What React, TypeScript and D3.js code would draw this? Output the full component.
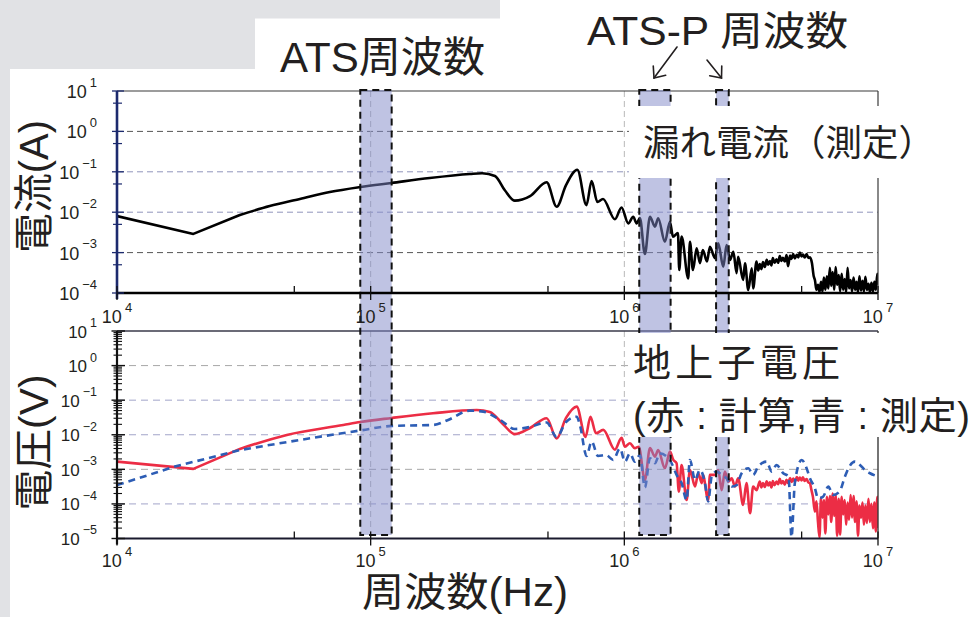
import React from "react";
import * as d3 from "d3";

// ---------- data ----------
// leakage current (measured), [Hz, A]
const leakCurrent: [number, number][] = [
  [1e4, 8.0e-3], [2.0e4, 2.9e-3], [3.05e4, 8.5e-3], [4.0e4, 1.42e-2], [5.26e4, 2.12e-2],
  [6.9e4, 3.16e-2], [9.1e4, 4.2e-2], [1.21e5, 5.3e-2], [1.71e5, 7.0e-2], [2.46e5, 8.8e-2],
  [2.75e5, 9.2e-2], [3.09e5, 7.9e-2], [3.38e5, 3.5e-2], [3.7e5, 1.93e-2], [4.25e5, 2.5e-2],
  [4.94e5, 5.5e-2], [5.41e5, 1.37e-2], [5.89e5, 4.7e-2], [6.53e5, 1.12e-1], [7.09e5, 1.5e-2],
  [7.43e5, 5.9e-2], [7.83e5, 1.79e-2], [8.24e5, 2.12e-2], [9.18e5, 6.7e-3], [9.75e5, 1.31e-2],
  [1.036e6, 5.3e-3], [1.084e6, 7.7e-3], [1.118e6, 5.3e-3], [1.152e6, 7.2e-3], [1.205e6, 9.2e-4],
  [1.262e6, 7.7e-3], [1.32e6, 4.4e-3], [1.36e6, 7.1e-3], [1.445e6, 1.86e-3], [1.513e6, 5.8e-3],
  [1.555e6, 2.48e-3], [1.627e6, 3.06e-3], [1.646e6, 3.7e-4], [1.682e6, 2.48e-3], [1.786e6, 2.3e-4],
  [1.814e6, 1.86e-3], [1.864e6, 3.7e-4], [1.928e6, 1.28e-3], [1.986e6, 5.5e-4], [2.04e6, 1.16e-3],
  [2.117e6, 6.0e-4], [2.175e6, 1.4e-3], [2.276e6, 7.3e-4], [2.345e6, 1.7e-3], [2.455e6, 4.5e-4],
  [2.53e6, 1.54e-3], [2.61e6, 6.6e-4], [2.69e6, 1.05e-3], [2.77e6, 3.1e-4], [2.81e6, 7.9e-4],
  [2.94e6, 2.1e-4], [2.99e6, 5.4e-4], [3.08e6, 1.19e-4], [3.18e6, 4.1e-4], [3.22e6, 1.3e-4],
  [3.32e6, 6.0e-4], [3.37e6, 3.6e-4], [3.42e6, 5.2e-4], [3.47e6, 3.9e-4], [3.52e6, 5.8e-4],
  [3.58e6, 4.4e-4], [3.64e6, 6.6e-4], [3.69e6, 5.0e-4], [3.75e6, 6.2e-4], [3.8e6, 4.8e-4],
  [3.85e6, 7.3e-4], [3.91e6, 5.6e-4], [3.98e6, 6.8e-4], [4.04e6, 5.6e-4], [4.1e6, 8.2e-4],
  [4.16e6, 6.2e-4], [4.22e6, 7.4e-4], [4.29e6, 6.0e-4], [4.36e6, 8.7e-4], [4.42e6, 4.6e-4],
  [4.5e6, 8.4e-4], [4.56e6, 7.0e-4], [4.63e6, 9.2e-4], [4.7e6, 7.2e-4], [4.79e6, 8.8e-4],
  [4.85e6, 7.6e-4], [4.92e6, 1.0e-3], [5.0e6, 8.0e-4], [5.06e6, 9.0e-4], [5.14e6, 7.6e-4],
  [5.23e6, 9.2e-4], [5.31e6, 7.4e-4], [5.39e6, 7.6e-4], [5.49e6, 5.5e-4], [5.58e6, 2.6e-4],
  [5.64e6, 2.1e-4], [5.72e6, 1.2e-4], [5.8e6, 1.6e-4], [5.88e6, 1.05e-4], [5.96e6, 1.9e-4],
  [6.04e6, 1.1e-4], [6.12e6, 2.4e-4], [6.2e6, 1.2e-4], [6.29e6, 2.6e-4], [6.37e6, 1.3e-4],
  [6.46e6, 4.2e-4], [6.54e6, 1.5e-4], [6.63e6, 3.3e-4], [6.72e6, 1.2e-4], [6.81e6, 4.4e-4],
  [6.9e6, 1.6e-4], [7.0e6, 2.8e-4], [7.09e6, 1.1e-4], [7.19e6, 3.0e-4], [7.29e6, 1.2e-4],
  [7.39e6, 2.2e-4], [7.49e6, 1.05e-4], [7.59e6, 4.2e-4], [7.69e6, 1.3e-4], [7.8e6, 2.1e-4],
  [7.9e6, 1.1e-4], [8.01e6, 2.4e-4], [8.12e6, 1.2e-4], [8.23e6, 1.9e-4], [8.34e6, 1.05e-4],
  [8.45e6, 2.6e-4], [8.57e6, 1.15e-4], [8.69e6, 2.0e-4], [8.8e6, 1.1e-4], [8.92e6, 2.5e-4],
  [9.04e6, 1.2e-4], [9.17e6, 1.7e-4], [9.29e6, 1.05e-4], [9.42e6, 1.8e-4], [9.55e6, 1.1e-4],
  [9.68e6, 1.9e-4], [9.81e6, 1.2e-4], [9.94e6, 3.0e-4], [1e7, 1.6e-4],
];

// transponder voltage, calculated (red), [Hz, V]
const calcVoltage: [number, number][] = [
  [1e4, 1.67e-3], [2.0e4, 1.03e-3], [3.05e4, 3.9e-3], [4.67e4, 9.9e-3], [7.8e4, 1.92e-2],
  [9.1e4, 2.34e-2], [1.21e5, 3.06e-2], [1.76e5, 4.18e-2], [2.62e5, 5.2e-2], [2.95e5, 4.56e-2],
  [3.32e5, 2.05e-2], [3.7e5, 1.04e-2], [4.25e5, 1.57e-2], [4.94e5, 3.0e-2], [5.41e5, 7.8e-3],
  [5.89e5, 3.06e-2], [6.49e5, 6.5e-2], [7.03e5, 8.6e-3], [7.35e5, 3.33e-2], [7.73e5, 1.1e-2],
  [8.26e5, 1.38e-2], [9.18e5, 3.7e-3], [9.75e5, 8.1e-3], [1.006e6, 4.5e-3], [1.052e6, 5.7e-3],
  [1.1e6, 4.1e-3], [1.14e6, 4.5e-3], [1.205e6, 4.9e-4], [1.262e6, 4.1e-3], [1.32e6, 2.33e-3],
  [1.36e6, 3.6e-3], [1.445e6, 1.08e-3], [1.513e6, 3.25e-3], [1.56e6, 1.87e-3], [1.607e6, 1.5e-3],
  [1.64e6, 2.27e-4], [1.682e6, 1.34e-3], [1.76e6, 1.3e-4], [1.814e6, 9.6e-4], [1.9e6, 3.2e-4],
  [1.956e6, 7.7e-4], [2.02e6, 4.0e-4], [2.04e6, 6.9e-4], [2.14e6, 1.3e-4], [2.175e6, 6.9e-4],
  [2.276e6, 6.9e-4], [2.345e6, 9.6e-4], [2.42e6, 2.5e-4], [2.49e6, 8.6e-4], [2.57e6, 4.4e-4],
  [2.65e6, 5.5e-4], [2.73e6, 3.2e-4], [2.81e6, 5.5e-4], [2.94e6, 9.4e-5], [3.03e6, 4.0e-4],
  [3.13e6, 5.4e-5], [3.22e6, 3.2e-4], [3.32e6, 2.5e-4], [3.42e6, 4.4e-4], [3.47e6, 3.0e-4],
  [3.52e6, 4.0e-4], [3.58e6, 3.1e-4], [3.64e6, 4.5e-4], [3.69e6, 3.4e-4], [3.75e6, 4.2e-4],
  [3.8e6, 3.0e-4], [3.85e6, 4.6e-4], [3.91e6, 3.5e-4], [3.98e6, 4.4e-4], [4.04e6, 3.7e-4],
  [4.1e6, 5.3e-4], [4.16e6, 3.9e-4], [4.22e6, 4.6e-4], [4.29e6, 3.6e-4], [4.36e6, 5.0e-4],
  [4.42e6, 4.0e-4], [4.5e6, 5.6e-4], [4.56e6, 4.3e-4], [4.63e6, 5.4e-4], [4.7e6, 4.4e-4],
  [4.79e6, 6.0e-4], [4.85e6, 4.7e-4], [4.92e6, 5.8e-4], [5.0e6, 4.8e-4], [5.06e6, 5.9e-4],
  [5.14e6, 4.6e-4], [5.23e6, 5.2e-4], [5.31e6, 4.2e-4], [5.39e6, 4.0e-4], [5.46e6, 2.6e-4],
  [5.54e6, 1.6e-4], [5.64e6, 6.0e-5], [5.72e6, 1.2e-4], [5.8e6, 3.0e-5], [5.88e6, 1.1e-5],
  [5.96e6, 1.5e-4], [6.04e6, 4.0e-5], [6.12e6, 1.3e-4], [6.2e6, 1.4e-5], [6.29e6, 1.6e-4],
  [6.37e6, 5.0e-5], [6.46e6, 1.7e-4], [6.54e6, 3.0e-5], [6.63e6, 2.0e-4], [6.72e6, 4.5e-5],
  [6.81e6, 1.8e-4], [6.9e6, 1.2e-5], [7.0e6, 1.4e-4], [7.09e6, 1.3e-5], [7.19e6, 1.6e-4],
  [7.29e6, 5.0e-5], [7.39e6, 1.3e-4], [7.49e6, 2.5e-5], [7.59e6, 1.1e-4], [7.69e6, 3.5e-5],
  [7.8e6, 1.8e-4], [7.9e6, 4.0e-5], [8.01e6, 1.7e-4], [8.12e6, 3.0e-5], [8.23e6, 1.2e-4],
  [8.34e6, 1.2e-5], [8.45e6, 9.0e-5], [8.57e6, 4.0e-5], [8.69e6, 1.1e-4], [8.8e6, 2.5e-5],
  [8.92e6, 9.0e-5], [9.04e6, 2.8e-5], [9.17e6, 1.4e-4], [9.29e6, 3.0e-5], [9.42e6, 1.0e-4],
  [9.55e6, 2.0e-5], [9.68e6, 1.1e-4], [9.81e6, 1.6e-5], [9.94e6, 1.6e-4], [1e7, 2.0e-5],
];

// transponder voltage, measured (blue dashed), [Hz, V]
const measVoltage: [number, number][] = [
  [1e4, 3.5e-4], [1.69e4, 1.2e-3], [3.05e4, 3.6e-3], [5.77e4, 7.9e-3], [9.1e4, 1.33e-2],
  [1.21e5, 1.8e-2], [1.77e5, 1.92e-2], [2.02e5, 2.68e-2], [2.46e5, 4.98e-2], [2.78e5, 4.66e-2],
  [3.24e5, 2.68e-2], [3.7e5, 1.47e-2], [4.25e5, 1.68e-2], [4.94e5, 2.26e-2], [5.41e5, 8.6e-3],
  [5.89e5, 2.34e-2], [6.49e5, 3.33e-2], [6.68e5, 1.92e-2], [7.1e5, 2.44e-3], [7.43e5, 6.4e-3],
  [7.87e5, 2.44e-3], [8.46e5, 2.6e-3], [9.04e5, 1.87e-3], [9.61e5, 4.0e-3], [1.006e6, 1.67e-3],
  [1.052e6, 2.9e-3], [1.1e6, 1.67e-3], [1.152e6, 2.6e-3], [1.205e6, 3.0e-4], [1.262e6, 2.1e-3],
  [1.32e6, 1.5e-3], [1.38e6, 2.9e-3], [1.47e6, 2.33e-3], [1.536e6, 1.5e-3], [1.607e6, 6.9e-4],
  [1.682e6, 4.0e-4], [1.76e6, 1.3e-4], [1.814e6, 1.87e-3], [1.9e6, 4.9e-4], [1.986e6, 9.6e-4],
  [2.08e6, 4.0e-4], [2.14e6, 1.17e-4], [2.21e6, 6.2e-4], [2.31e6, 8.6e-4], [2.42e6, 6.9e-4],
  [2.53e6, 5.5e-4], [2.65e6, 3.2e-4], [2.77e6, 3.5e-4], [2.9e6, 7.7e-4], [3.08e6, 1.08e-3],
  [3.22e6, 6.9e-4], [3.37e6, 1.2e-3], [3.64e6, 1.67e-3], [3.81e6, 8.6e-4], [3.98e6, 1.34e-3],
  [4.23e6, 7.7e-4], [4.44e6, 6.2e-4], [4.56e6, 1.1e-5], [4.7e6, 4.0e-4], [5.0e6, 1.87e-3],
  [5.23e6, 1.08e-3], [5.39e6, 5.5e-4], [5.64e6, 2.85e-4], [5.8e6, 1.46e-4], [6.08e6, 1.63e-4],
  [6.37e6, 3.2e-4], [6.64e6, 1.82e-4], [7.05e6, 2.27e-4], [7.41e6, 6.2e-4], [7.71e6, 1.2e-3],
  [8.11e6, 1.67e-3], [8.49e6, 1.34e-3], [8.88e6, 9.6e-4], [9.3e6, 7.7e-4], [1e7, 6.2e-4],
];

// highlighted frequency bands [Hz, Hz]
const atsBands: [number, number][] = [[9.1e4, 1.21e5]];
const atspBands: [number, number][] = [[1.145e6, 1.522e6], [2.3e6, 2.58e6]];

// ticks
const xDecades = [4, 5, 6, 7];
const topDecades = [1, 0, -1, -2, -3, -4];
const botDecades = [1, 0, -1, -2, -3, -4, -5];
const topGrid = [1, 0.1, 0.01, 0.001];
const botGrid = [1, 0.1, 0.01, 0.001, 0.0001];
const vGrid = [1e5, 1e6];

// ---------- layout ----------
const W = 973;
const H = 617;
const X0 = 117;
const X1 = 878;
const TOP_Y0 = 91;
const TOP_Y1 = 293;
const BOT_Y0 = 331;
const BOT_Y1 = 538.5;

const x = d3.scaleLog().domain([1e4, 1e7]).range([X0, X1]);
const yTop = d3.scaleLog().domain([1e-4, 10]).range([TOP_Y1, TOP_Y0]);
const yBot = d3.scaleLog().domain([1e-5, 10]).range([BOT_Y1, BOT_Y0]);

const LATIN = "'Liberation Sans', Arial, 'Noto Sans CJK JP', sans-serif";
const CJK = "'Liberation Sans', 'Noto Sans CJK JP', sans-serif";
const TXT = "#231f20";
const GRAY_BG = "#e1e2e5";

function expStr(e: number) {
  return e < 0 ? "\u2212" + -e : String(e);
}

// straight segments for the first `k` points, smooth afterwards
function makePath(data: [number, number][], y: d3.ScaleLogarithmic<number, number>, k: number) {
  const lin = d3.line<[number, number]>().x((d) => x(d[0])).y((d) => y(d[1]))(data.slice(0, k + 1)) || "";
  const mono = d3
    .line<[number, number]>()
    .x((d) => x(d[0]))
    .y((d) => y(d[1]))
    .curve(d3.curveMonotoneX)(data.slice(k)) || "";
  return lin + mono.replace(/^M/, "L");
}

function Pow({ px, py, e, anchor, size, esize }: { px: number; py: number; e: number; anchor: string; size: number; esize: number }) {
  return (
    <text x={px} y={py} textAnchor={anchor as any} fontFamily={LATIN} fontSize={size} fill={TXT}>
      10
      <tspan dx={3} dy={-size * 0.62} fontSize={esize}>
        {expStr(e)}
      </tspan>
    </text>
  );
}

function Arrow({ x1, y1, x2, y2 }: { x1: number; y1: number; x2: number; y2: number }) {
  const ang = Math.atan2(y2 - y1, x2 - x1);
  const L = 12;
  const a1 = ang + Math.PI - 0.7;
  const a2 = ang + Math.PI + 0.7;
  return (
    <g stroke="#231f20" strokeWidth={1.6} fill="none" strokeLinecap="round">
      <line x1={x1} y1={y1} x2={x2} y2={y2} />
      <polyline
        points={`${x2 + L * Math.cos(a1)},${y2 + L * Math.sin(a1)} ${x2},${y2} ${x2 + L * Math.cos(a2)},${y2 + L * Math.sin(a2)}`}
      />
    </g>
  );
}

export default function App() {
  const minorTop: number[] = [];
  for (let e = -4; e < 1; e++) minorTop.push(5 * Math.pow(10, e));
  const minorBot: number[] = [];
  for (let e = -5; e < 1; e++) for (let k = 2; k <= 9; k++) minorBot.push(k * Math.pow(10, e));
  const xMinor = [5e4, 5e5, 5e6];

  const bands = [...atsBands, ...atspBands];

  return (
    <div style={{ position: "absolute", left: 0, top: 0 }}>
      <svg width={W} height={H} viewBox={`0 0 ${W} ${H}`} style={{ display: "block" }}>
        <defs>
          <clipPath id="clipTop">
            <rect x={X0} y={TOP_Y0} width={X1 - X0} height={TOP_Y1 - TOP_Y0} />
          </clipPath>
          <clipPath id="clipBot">
            <rect x={X0} y={BOT_Y0} width={X1 - X0} height={BOT_Y1 - BOT_Y0} />
          </clipPath>
        </defs>
        <rect x={0} y={0} width={W} height={H} fill="#fff" />
        {/* gray page background pieces */}
        <rect x={0} y={0} width={500} height={18.5} fill={GRAY_BG} />
        <rect x={0} y={0} width={255} height={69} fill={GRAY_BG} />
        <rect x={0} y={0} width={10} height={H} fill={GRAY_BG} />

        {/* horizontal gridlines */}
        {topGrid.map((v, i) => (
          <line key={"tg" + i} x1={X0} x2={X1} y1={yTop(v)} y2={yTop(v)}
            stroke={i === 0 || i === 3 ? "#555" : "#9094bb"} strokeWidth={1} strokeDasharray="6,4" />
        ))}
        {botGrid.map((v, i) => (
          <line key={"bg" + i} x1={X0} x2={X1} y1={yBot(v)} y2={yBot(v)}
            stroke={i === 0 || i === 3 ? "#a8a8a8" : "#a2a5c9"} strokeWidth={1} strokeDasharray="7,5" />
        ))}
        {/* vertical gridlines */}
        {vGrid.map((v, i) => (
          <g key={"vg" + i} stroke="#b8b8b8" strokeWidth={1} strokeDasharray="6,4">
            <line x1={x(v)} x2={x(v)} y1={TOP_Y0} y2={TOP_Y1} />
            <line x1={x(v)} x2={x(v)} y1={BOT_Y0} y2={BOT_Y1} />
          </g>
        ))}

        {/* curves */}
        <g clipPath="url(#clipTop)">
          <path d={makePath(leakCurrent, yTop, 2)} fill="none" stroke="#000" strokeWidth={2.6} strokeLinejoin="round" />
        </g>
        <g clipPath="url(#clipBot)">
          <path d={makePath(calcVoltage, yBot, 2)} fill="none" stroke="#ec2d45" strokeWidth={2.6} strokeLinejoin="round" />
          <path d={makePath(measVoltage, yBot, 2)} fill="none" stroke="#2d5db5" strokeWidth={2.6} strokeDasharray="7,5" />
        </g>

        {/* frames */}
        <line x1={X0} x2={X1} y1={TOP_Y0} y2={TOP_Y0} stroke="#3a3a3a" strokeWidth={1.2} />
        <line x1={X1} x2={X1} y1={TOP_Y0} y2={TOP_Y1} stroke="#3a3a3a" strokeWidth={1.2} />
        <line x1={X0} x2={X1} y1={BOT_Y0} y2={BOT_Y0} stroke="#3a3a4a" strokeWidth={1.4} />
        <line x1={X1} x2={X1} y1={BOT_Y0} y2={BOT_Y1} stroke="#3a3a3a" strokeWidth={1.4} />

        {/* frequency bands */}
        {bands.map((b, i) => (
          <rect key={"band" + i} x={x(b[0])} y={90} width={x(b[1]) - x(b[0])} height={535 - 90}
            fill="rgb(128,136,200)" fillOpacity={0.5} stroke="#111" strokeWidth={2} strokeDasharray="7,5" />
        ))}

        {/* axes */}
        <line x1={X0} x2={X0} y1={TOP_Y0} y2={TOP_Y1 + 6} stroke="#1c2a6e" strokeWidth={2.6} />
        <line x1={X0} x2={X1} y1={TOP_Y1} y2={TOP_Y1} stroke="#000" strokeWidth={2.4} />
        {topDecades.map((e) => (
          <line key={"tt" + e} x1={112} x2={124} y1={yTop(Math.pow(10, e))} y2={yTop(Math.pow(10, e))} stroke="#1c2a6e" strokeWidth={1.3} />
        ))}
        {minorTop.map((v, i) => (
          <line key={"tm" + i} x1={113} x2={122} y1={yTop(v)} y2={yTop(v)} stroke="#1c2a6e" strokeWidth={1.2} />
        ))}
        <line x1={X0} x2={X0} y1={BOT_Y0} y2={BOT_Y1 + 6} stroke="#111" strokeWidth={2.2} />
        <line x1={X0} x2={X1} y1={BOT_Y1} y2={BOT_Y1} stroke="#1a1a2e" strokeWidth={2.2} />
        {botDecades.map((e) => (
          <line key={"bt" + e} x1={111.5} x2={125} y1={yBot(Math.pow(10, e))} y2={yBot(Math.pow(10, e))} stroke="#111" strokeWidth={1.4} />
        ))}
        {minorBot.map((v, i) => (
          <line key={"bm" + i} x1={113.5} x2={122} y1={yBot(v)} y2={yBot(v)} stroke="#111" strokeWidth={1.1} />
        ))}
        {xDecades.map((e) => (
          <g key={"xt" + e} stroke="#111" strokeWidth={1.3}>
            <line x1={x(Math.pow(10, e))} x2={x(Math.pow(10, e))} y1={TOP_Y1 - 7} y2={TOP_Y1 + 7} />
            <line x1={x(Math.pow(10, e))} x2={x(Math.pow(10, e))} y1={BOT_Y1 - 7} y2={BOT_Y1 + 7} />
          </g>
        ))}
        {xMinor.map((v, i) => (
          <g key={"xm" + i} stroke="#111" strokeWidth={1.3}>
            <line x1={x(v)} x2={x(v)} y1={TOP_Y1 - 7} y2={TOP_Y1} />
            <line x1={x(v)} x2={x(v)} y1={BOT_Y1 - 7} y2={BOT_Y1} />
          </g>
        ))}

        {/* white annotation boxes */}
        <rect x={629} y={106} width={W - 629} height={72} fill="#fff" />
        <rect x={629} y={333} width={W - 629} height={104} fill="#fff" />

        {/* tick labels */}
        {topDecades.map((e) => (
          <Pow key={"tl" + e} px={97} py={yTop(Math.pow(10, e)) + 7} e={e} anchor="end" size={18} esize={13} />
        ))}
        {botDecades.map((e) => (
          <Pow key={"bl" + e} px={97} py={yBot(Math.pow(10, e)) + 6.5} e={e} anchor="end" size={17} esize={12.5} />
        ))}
        {xDecades.map((e) => (
          <Pow key={"xl" + e} px={x(Math.pow(10, e))} py={323} e={e} anchor="middle" size={18} esize={13} />
        ))}
        {xDecades.map((e) => (
          <Pow key={"xb" + e} px={x(Math.pow(10, e))} py={567} e={e} anchor="middle" size={18} esize={13} />
        ))}

        {/* axis titles */}
        <text transform="translate(48,186.5) rotate(-90)" textAnchor="middle" fontFamily={CJK} fontSize={40} fill={TXT}
          textLength={133} lengthAdjust="spacingAndGlyphs">
          電流(A)
        </text>
        <text transform="translate(48,442.5) rotate(-90)" textAnchor="middle" fontFamily={CJK} fontSize={40} fill={TXT}
          textLength={136} lengthAdjust="spacingAndGlyphs">
          電圧(V)
        </text>
        <text x={362} y={606} fontFamily={CJK} fontSize={40} fill={TXT} textLength={206} lengthAdjust="spacingAndGlyphs">
          周波数(Hz)
        </text>

        {/* annotations */}
        <text x={280} y={72} fontFamily={CJK} fontSize={42} fill={TXT} textLength={205} lengthAdjust="spacingAndGlyphs">
          ATS周波数
        </text>
        <text x={587} y={45} fontFamily={CJK} fontSize={40} fill={TXT} textLength={261} lengthAdjust="spacingAndGlyphs">
          ATS-P 周波数
        </text>
        <Arrow x1={677} y1={47} x2={654} y2={78} />
        <Arrow x1={707} y1={60} x2={721.5} y2={78} />
        <text x={643} y={156} fontFamily={CJK} fontSize={36} fill={TXT} textLength={292} lengthAdjust="spacingAndGlyphs">
          漏れ電流（測定）
        </text>
        <text x={633} y={376} fontFamily={CJK} fontSize={38} fill={TXT} textLength={207} lengthAdjust="spacing">
          地上子電圧
        </text>
        <text x={633} y={429} fontFamily={CJK} fontSize={38} fill={TXT} textLength={337} lengthAdjust="spacing">
          (赤 : 計算,青 : 測定)
        </text>
      </svg>
    </div>
  );
}
